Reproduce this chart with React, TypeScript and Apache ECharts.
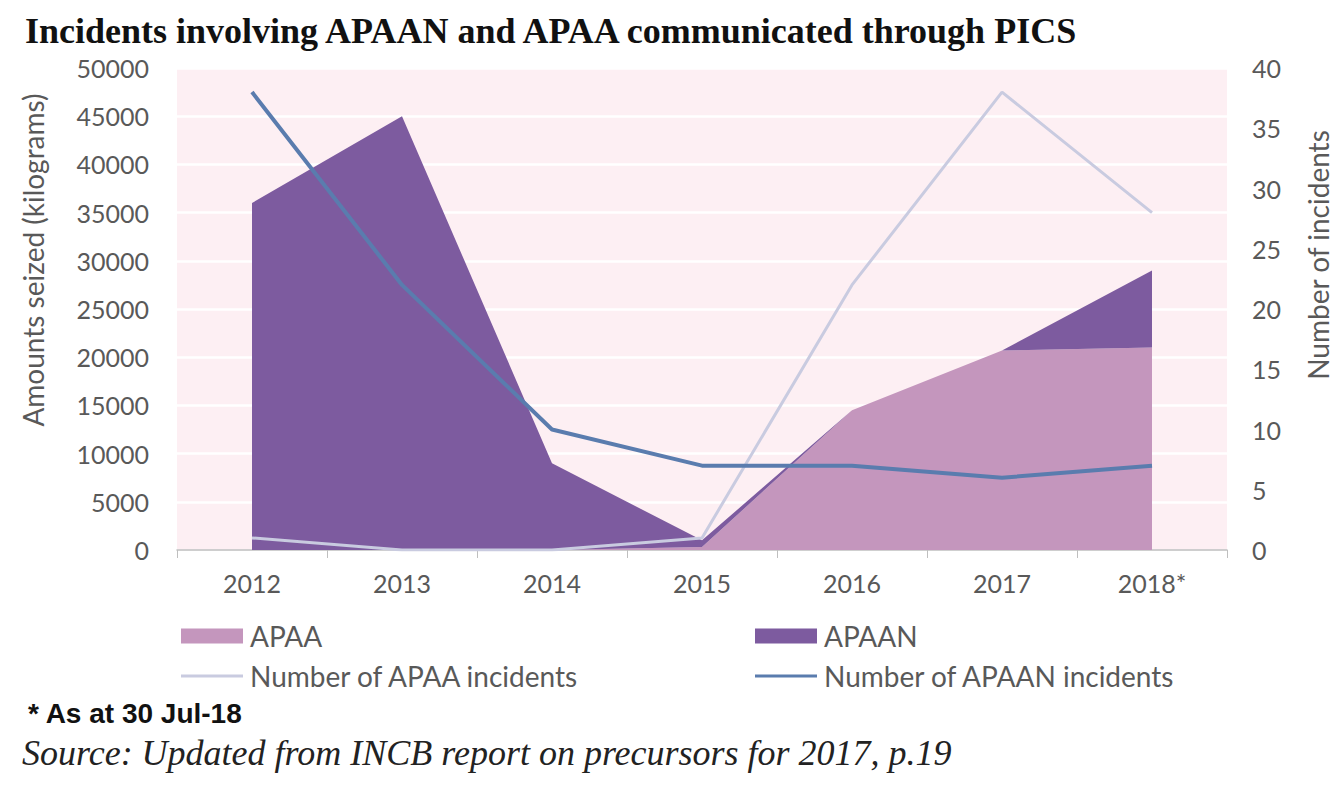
import React, { useEffect, useRef } from "react";
import * as echarts from "echarts";

const years = ["2012", "2013", "2014", "2015", "2016", "2017", "2018*"];
const apaaKg = [0, 0, 0, 300, 14500, 20700, 21000];
const apaanKg = [36000, 45000, 9000, 700, 0, 0, 8000];
const apaaIncidents = [1, 0, 0, 1, 22, 38, 28];
const apaanIncidents = [38, 22, 10, 7, 7, 6, 7];

const C_APAA = "#c496bd";
const C_APAAN = "#7d5b9f";
const C_APAA_LINE = "#c9cbe0";
const C_APAAN_LINE = "#5a7cae";
const TXT = "#595959";
const FONT = "Lato, 'Open Sans', sans-serif";

export default function App() {
  const ref = useRef<HTMLDivElement>(null);
  useEffect(() => {
    if (!ref.current) return;
    const chart = echarts.init(ref.current, null, { renderer: "svg" });
    const legendBase = (name: string, left: number, top: number, h: number) => ({
      data: [name],
      left,
      top,
      icon: "rect",
      itemWidth: 62,
      itemHeight: h,
      itemGap: 0,
      selectedMode: false,
      textStyle: { color: TXT, fontSize: 28, fontFamily: FONT, padding: [0, 0, 0, 2] },
    });
    chart.setOption({
      animation: false,
      backgroundColor: "#ffffff",
      title: {
        text: "Incidents involving APAAN and APAA communicated through PICS",
        left: 20,
        top: 8,
        textStyle: {
          fontFamily: "'Liberation Serif', 'Times New Roman', serif",
          fontWeight: "bold",
          fontSize: 36,
          color: "#111",
        },
      },
      grid: {
        left: 177,
        right: 107,
        top: 68,
        bottom: 240,
        show: true,
        backgroundColor: "#fdeff3",
        borderWidth: 0,
      },
      legend: [
        legendBase("APAA", 176, 617, 15),
        legendBase("APAAN", 750, 617, 15),
        legendBase("Number of APAA incidents", 176, 657, 3),
        legendBase("Number of APAAN incidents", 750, 657, 3),
      ],
      xAxis: {
        type: "category",
        data: years,
        boundaryGap: true,
        axisLine: { lineStyle: { color: "#bfbfbf", width: 1.5 } },
        axisTick: { show: true, length: 8, lineStyle: { color: "#bfbfbf" } },
        axisLabel: { color: TXT, fontSize: 25, fontFamily: FONT, margin: 20 },
      },
      yAxis: [
        {
          type: "value",
          min: 0,
          max: 50000,
          interval: 5000,
          axisLine: { show: false },
          axisTick: { show: false },
          splitLine: { show: true, lineStyle: { color: "#ffffff", width: 2.5 } },
          axisLabel: {
            color: TXT,
            fontSize: 25,
            fontFamily: FONT,
            margin: 28,
            formatter: (v: number) => String(v),
          },
        },
        {
          type: "value",
          min: 0,
          max: 40,
          interval: 5,
          axisLine: { show: false },
          axisTick: { show: false },
          splitLine: { show: false },
          axisLabel: { color: TXT, fontSize: 25, fontFamily: FONT, margin: 25 },
        },
      ],
      series: [
        {
          name: "APAA",
          type: "line",
          stack: "kg",
          data: apaaKg,
          yAxisIndex: 0,
          symbol: "none",
          lineStyle: { width: 0 },
          itemStyle: { color: C_APAA },
          areaStyle: { color: C_APAA, opacity: 1 },
        },
        {
          name: "APAAN",
          type: "line",
          stack: "kg",
          data: apaanKg,
          yAxisIndex: 0,
          symbol: "none",
          lineStyle: { width: 0 },
          itemStyle: { color: C_APAAN },
          areaStyle: { color: C_APAAN, opacity: 1 },
        },
        {
          name: "Number of APAA incidents",
          type: "line",
          data: apaaIncidents,
          yAxisIndex: 1,
          symbol: "none",
          lineStyle: { width: 3, color: C_APAA_LINE },
          itemStyle: { color: C_APAA_LINE },
        },
        {
          name: "Number of APAAN incidents",
          type: "line",
          data: apaanIncidents,
          yAxisIndex: 1,
          symbol: "none",
          lineStyle: { width: 4, color: C_APAAN_LINE },
          itemStyle: { color: C_APAAN_LINE },
        },
      ],
      graphic: [
        {
          type: "text",
          x: 33,
          y: 260,
          rotation: Math.PI / 2,
          style: {
            text: "Amounts seized (kilograms)",
            fill: TXT,
            fontSize: 28,
            fontFamily: FONT,
            textAlign: "center",
            textVerticalAlign: "middle",
          },
        },
        {
          type: "text",
          x: 1318,
          y: 255,
          rotation: Math.PI / 2,
          style: {
            text: "Number of incidents",
            fill: TXT,
            fontSize: 28,
            fontFamily: FONT,
            textAlign: "center",
            textVerticalAlign: "middle",
          },
        },
        {
          type: "text",
          x: 28,
          y: 713,
          style: {
            text: "* As at 30 Jul-18",
            fill: "#111",
            fontSize: 28,
            fontWeight: "bold",
            fontFamily: "'Liberation Sans Narrow', 'Liberation Sans', Arial, sans-serif",
            textVerticalAlign: "middle",
          },
        },
        {
          type: "text",
          x: 22,
          y: 753,
          style: {
            text: "Source: Updated from INCB report on precursors for 2017, p.19",
            fill: "#222",
            fontSize: 36,
            fontStyle: "italic",
            fontFamily: "'Liberation Serif', 'Times New Roman', serif",
            textVerticalAlign: "middle",
          },
        },
      ],
    });
    return () => chart.dispose();
  }, []);
  return (
    <div
      ref={ref}
      style={{ position: "fixed", left: 0, top: 0, width: 1334, height: 790 }}
    />
  );
}
